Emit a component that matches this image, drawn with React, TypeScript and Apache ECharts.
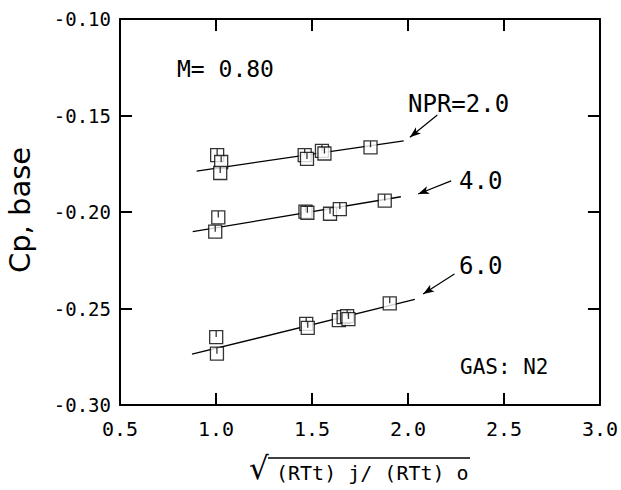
import React, { useEffect, useRef } from "react";
import * as echarts from "echarts";

// NPR = 2.0
const npr2X = [1.006, 1.027, 1.022, 1.462, 1.474, 1.552, 1.565, 1.805];
const npr2Y = [-0.1705, -0.1741, -0.1798, -0.1705, -0.1725, -0.1683, -0.1697, -0.1665];
// NPR = 4.0
const npr4X = [1.012, 0.996, 1.466, 1.476, 1.594, 1.645, 1.879];
const npr4Y = [-0.2028, -0.2102, -0.1998, -0.2004, -0.2009, -0.1985, -0.1941];
// NPR = 6.0
const npr6X = [1.001, 1.005, 1.47, 1.478, 1.64, 1.665, 1.683, 1.69, 1.905];
const npr6Y = [-0.2648, -0.2734, -0.258, -0.26, -0.256, -0.2545, -0.254, -0.2555, -0.2473];

// Fairing lines (start, end)
const fit2 = [[0.899, -0.1788], [1.978, -0.1631]];
const fit4 = [[0.879, -0.2102], [1.963, -0.1921]];
const fit6 = [[0.875, -0.2737], [2.036, -0.2453]];

// Arrows (from, to)
const arrow2 = [[2.153, -0.1497], [2.01, -0.1613]];
const arrow4 = [[2.225, -0.1839], [2.053, -0.1907]];
const arrow6 = [[2.242, -0.2321], [2.079, -0.2425]];

const xTicks = [0.5, 1.0, 1.5, 2.0, 2.5, 3.0];
const yTicks = [-0.3, -0.25, -0.2, -0.15, -0.1];

const MONO = "DejaVu Sans Mono";
const SYMBOL = "path://M0,0L10,0L10,10L0,10Z M5,0L5,5";

const zip = (xs: number[], ys: number[]) => xs.map((x, i) => [x, ys[i]]);

function makeSeries(name: string, xs: number[], ys: number[], fit: number[][], arrow: number[][]) {
  return [
    {
      name: name + " fit",
      type: "line",
      data: fit,
      showSymbol: false,
      symbol: "none",
      lineStyle: { color: "#000", width: 1.3 },
      z: 2,
      silent: true,
      markLine: {
        silent: true,
        symbol: ["none", "arrow"],
        symbolSize: [6, 11],
        label: { show: false },
        lineStyle: { color: "#000", width: 1.2, type: "solid" },
        data: [[{ coord: arrow[0] }, { coord: arrow[1] }]],
      },
    },
    {
      name,
      type: "scatter",
      data: zip(xs, ys),
      symbol: SYMBOL,
      symbolSize: 13,
      itemStyle: { color: "#fff", borderColor: "#000", borderWidth: 1.3 },
      z: 3,
    },
  ];
}

export default function App() {
  const ref = useRef<HTMLDivElement>(null);
  useEffect(() => {
    if (!ref.current) return;
    const chart = echarts.init(ref.current, undefined, { renderer: "svg" });
    const axisCommon = {
      type: "value",
      axisLine: { show: true, lineStyle: { color: "#000", width: 2 } },
      axisTick: { show: true, inside: true, length: 12, lineStyle: { color: "#000", width: 2 } },
      splitLine: { show: false },
    };
    chart.setOption({
      animation: false,
      backgroundColor: "#fff",
      grid: { left: 120, top: 19, right: 17, bottom: 85 },
      xAxis: [
        {
          ...axisCommon,
          position: "bottom",
          min: xTicks[0],
          max: xTicks[xTicks.length - 1],
          interval: 0.5,
          axisLabel: {
            color: "#000",
            fontFamily: MONO,
            fontSize: 20,
            margin: 14,
            formatter: (v: number) => v.toFixed(1),
          },
        },
        {
          ...axisCommon,
          position: "top",
          min: xTicks[0],
          max: xTicks[xTicks.length - 1],
          interval: 0.5,
          axisLabel: { show: false },
        },
      ],
      yAxis: [
        {
          ...axisCommon,
          position: "left",
          min: yTicks[0],
          max: yTicks[yTicks.length - 1],
          interval: 0.05,
          axisLabel: {
            color: "#000",
            fontFamily: MONO,
            fontSize: 19,
            margin: 9,
            formatter: (v: number) => v.toFixed(2),
          },
        },
        {
          ...axisCommon,
          position: "right",
          min: yTicks[0],
          max: yTicks[yTicks.length - 1],
          interval: 0.05,
          axisLabel: { show: false },
        },
      ],
      series: [
        ...makeSeries("NPR=2.0", npr2X, npr2Y, fit2, arrow2),
        ...makeSeries("NPR=4.0", npr4X, npr4Y, fit4, arrow4),
        ...makeSeries("NPR=6.0", npr6X, npr6Y, fit6, arrow6),
      ],
      graphic: [
        {
          type: "text",
          left: 177,
          top: 57,
          style: { text: "M= 0.80", font: `23px "${MONO}"`, fill: "#000" },
        },
        {
          type: "text",
          left: 408,
          top: 92,
          style: { text: "NPR=2.0", font: `24px "${MONO}"`, fill: "#000" },
        },
        {
          type: "text",
          left: 459,
          top: 169,
          style: { text: "4.0", font: `24px "${MONO}"`, fill: "#000" },
        },
        {
          type: "text",
          left: 459,
          top: 254,
          style: { text: "6.0", font: `24px "${MONO}"`, fill: "#000" },
        },
        {
          type: "text",
          left: 460,
          top: 356,
          style: { text: "GAS: N2", font: `21px "${MONO}"`, fill: "#000" },
        },
        {
          type: "text",
          x: 20,
          y: 210,
          rotation: Math.PI / 2,
          style: {
            text: "Cp, base",
            font: `29px "DejaVu Sans"`,
            fill: "#000",
            align: "center",
            verticalAlign: "middle",
          },
        },
        {
          type: "text",
          left: 249,
          top: 452,
          style: { text: "√", font: `31px "DejaVu Sans"`, fill: "#000" },
        },
        {
          type: "line",
          shape: { x1: 268, y1: 458, x2: 470, y2: 458 },
          style: { stroke: "#000", lineWidth: 1.5 },
        },
        {
          type: "text",
          left: 276,
          top: 463,
          style: { text: "(RTt) j/ (RTt) o", font: `20px "${MONO}"`, fill: "#000" },
        },
      ],
    });
    return () => chart.dispose();
  }, []);
  return (
    <div
      ref={ref}
      style={{ position: "fixed", left: 0, top: 0, width: 621, height: 490, background: "#fff" }}
    />
  );
}
